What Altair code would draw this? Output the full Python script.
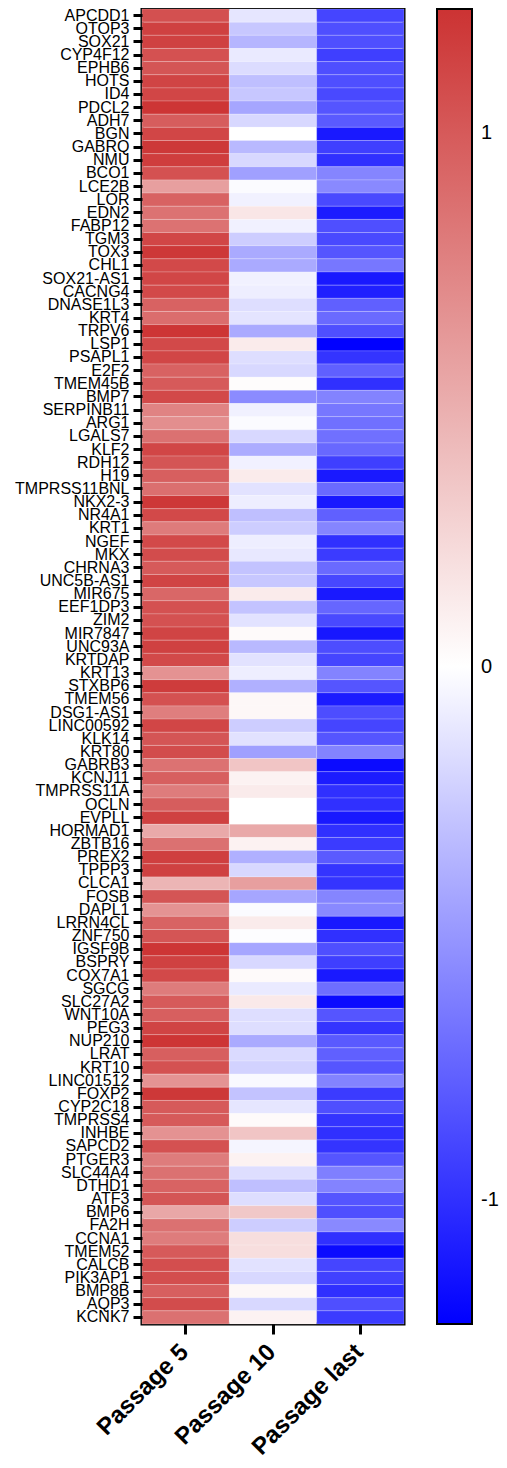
import altair as alt
import pandas as pd

genes = ["APCDD1", "OTOP3", "SOX21", "CYP4F12", "EPHB6", "HOTS", "ID4", "PDCL2", "ADH7", "BGN",
         "GABRQ", "NMU", "BCO1", "LCE2B", "LOR", "EDN2", "FABP12", "TGM3", "TOX3", "CHL1",
         "SOX21-AS1", "CACNG4", "DNASE1L3", "KRT4", "TRPV6", "LSP1", "PSAPL1", "E2F2", "TMEM45B", "BMP7",
         "SERPINB11", "ARG1", "LGALS7", "KLF2", "RDH12", "H19", "TMPRSS11BNL", "NKX2-3", "NR4A1", "KRT1",
         "NGEF", "MKX", "CHRNA3", "UNC5B-AS1", "MIR675", "EEF1DP3", "ZIM2", "MIR7847", "UNC93A", "KRTDAP",
         "KRT13", "STXBP6", "TMEM56", "DSG1-AS1", "LINC00592", "KLK14", "KRT80", "GABRB3", "KCNJ11", "TMPRSS11A",
         "OCLN", "EVPLL", "HORMAD1", "ZBTB16", "PREX2", "TPPP3", "CLCA1", "FOSB", "DAPL1", "LRRN4CL",
         "ZNF750", "IGSF9B", "BSPRY", "COX7A1", "SGCG", "SLC27A2", "WNT10A", "PEG3", "NUP210", "LRAT",
         "KRT10", "LINC01512", "FOXP2", "CYP2C18", "TMPRSS4", "INHBE", "SAPCD2", "PTGER3", "SLC44A4", "DTHD1",
         "ATF3", "BMP6", "FA2H", "CCNA1", "TMEM52", "CALCB", "PIK3AP1", "BMP8B", "AQP3", "KCNK7"]

conditions = ["Passage 5", "Passage 10", "Passage last"]

passage5 = [1.06, 1.15, 1.15, 1.05, 1.03, 1.13, 1.12, 1.22, 0.98, 1.12,
            1.20, 1.17, 1.05, 0.58, 0.95, 0.85, 0.85, 1.12, 1.20, 1.10,
            1.12, 1.10, 0.95, 0.88, 1.22, 1.10, 1.12, 0.95, 1.00, 1.10,
            0.75, 0.68, 0.86, 1.12, 1.03, 0.97, 0.87, 1.20, 1.10, 0.80,
            1.10, 1.08, 1.00, 1.13, 0.92, 1.05, 1.05, 1.13, 1.15, 1.10,
            0.66, 1.18, 1.05, 0.78, 1.12, 1.03, 1.08, 0.85, 0.97, 0.79,
            0.98, 1.15, 0.52, 0.86, 1.16, 1.15, 0.45, 1.03, 0.65, 0.94,
            1.03, 1.22, 1.15, 1.10, 0.79, 1.00, 0.97, 1.13, 1.22, 0.97,
            1.05, 0.65, 1.20, 1.00, 1.00, 0.66, 1.05, 0.79, 0.86, 0.94,
            1.03, 0.53, 0.86, 0.79, 1.00, 1.07, 1.07, 0.97, 1.08, 0.86]

passage10 = [-0.12, -0.27, -0.36, -0.10, -0.17, -0.31, -0.27, -0.43, -0.19, 0.00,
             -0.34, -0.19, -0.46, -0.02, -0.07, 0.15, -0.07, -0.24, -0.41, -0.41,
             -0.07, -0.08, -0.16, -0.13, -0.41, 0.12, -0.16, -0.19, 0.02, -0.56,
             -0.07, -0.02, -0.19, -0.40, -0.07, 0.12, -0.14, -0.08, -0.31, -0.24,
             -0.08, -0.11, -0.29, -0.27, 0.12, -0.29, -0.14, 0.03, -0.34, -0.14,
             -0.08, -0.38, 0.05, 0.05, -0.24, -0.14, -0.46, 0.35, 0.08, 0.12,
             0.00, 0.00, 0.52, 0.08, -0.38, -0.19, 0.58, -0.43, -0.02, 0.12,
             -0.01, -0.43, -0.19, 0.03, -0.10, 0.13, -0.16, -0.16, -0.41, -0.18,
             -0.22, -0.03, -0.29, -0.12, 0.03, 0.35, -0.05, 0.08, -0.16, -0.31,
             -0.16, 0.33, -0.24, 0.20, 0.20, -0.14, -0.19, 0.05, -0.19, 0.08]

passage_last = [-0.90, -0.85, -0.85, -0.93, -0.85, -0.85, -0.88, -0.82, -0.80, -1.11,
                -0.93, -1.00, -0.59, -0.57, -0.88, -1.10, -0.85, -0.88, -0.82, -0.66,
                -1.11, -1.08, -0.77, -0.72, -0.85, -1.23, -0.98, -0.77, -1.00, -0.60,
                -0.66, -0.69, -0.69, -0.73, -0.93, -1.11, -0.72, -1.11, -0.77, -0.59,
                -1.00, -0.95, -0.72, -0.89, -1.11, -0.74, -0.88, -1.12, -0.86, -0.90,
                -0.60, -0.82, -1.10, -0.86, -0.90, -0.82, -0.60, -1.18, -1.10, -1.00,
                -1.00, -1.11, -1.00, -0.95, -0.80, -0.98, -0.98, -0.59, -0.57, -1.11,
                -1.00, -0.85, -0.93, -1.11, -0.70, -1.18, -0.82, -0.98, -0.80, -0.77,
                -0.82, -0.60, -0.95, -0.85, -0.98, -1.00, -0.98, -0.82, -0.62, -0.60,
                -0.82, -0.85, -0.57, -1.00, -1.18, -0.90, -0.92, -1.00, -0.85, -0.95]

colorbar_ticks = [-1, 0, 1]
color_domain = [-1.233, 0, 1.233]
color_range = ["#0000ff", "#ffffff", "#cc3333"]

rows = []
for series_name, values in zip(conditions, [passage5, passage10, passage_last]):
    for g, v in zip(genes, values):
        rows.append({"gene": g, "condition": series_name, "value": v})
df = pd.DataFrame(rows)

FONT = "Liberation Sans"

chart = alt.Chart(df).mark_rect(
    stroke="white", strokeWidth=0.6, strokeOpacity=0.35
).encode(
    x=alt.X("condition:N", sort=conditions, title=None,
            axis=alt.Axis(labelAngle=-45, labelFontSize=24, labelFontWeight="bold",
                          labelFont=FONT, labelColor="black", labelAlign="right",
                          labelBaseline="middle", labelPadding=14, labelOffset=-1,
                          tickSize=10, tickWidth=3, tickColor="black",
                          domain=False)),
    y=alt.Y("gene:N", sort=genes, title=None,
            axis=alt.Axis(labelFontSize=16, labelFont=FONT, labelColor="black",
                          labelOverlap=False, labelPadding=4, tickSize=9, tickWidth=3,
                          tickColor="black", domain=False, labelLimit=300)),
    color=alt.Color("value:Q", title=None,
                    scale=alt.Scale(domain=color_domain, range=color_range, interpolate="rgb"),
                    legend=alt.Legend(values=colorbar_ticks, gradientLength=1315,
                                      gradientThickness=35, gradientStrokeColor="black",
                                      gradientStrokeWidth=2, labelFontSize=20, labelFont=FONT,
                                      labelColor="black", labelOffset=9, offset=33, padding=0,
                                      labelOverlap=False, labelExpr="'' + datum.value"))
).properties(
    width=262, height=1315,
    autosize=alt.AutoSizeParams(type="none"),
    padding={"left": 134, "top": 1, "right": 95, "bottom": 135}
).configure_view(
    stroke="black", strokeWidth=3
).configure_scale(
    bandPaddingInner=0, bandPaddingOuter=0
)

chart.save("out.html", embed_options={"renderer": "svg", "actions": False})
